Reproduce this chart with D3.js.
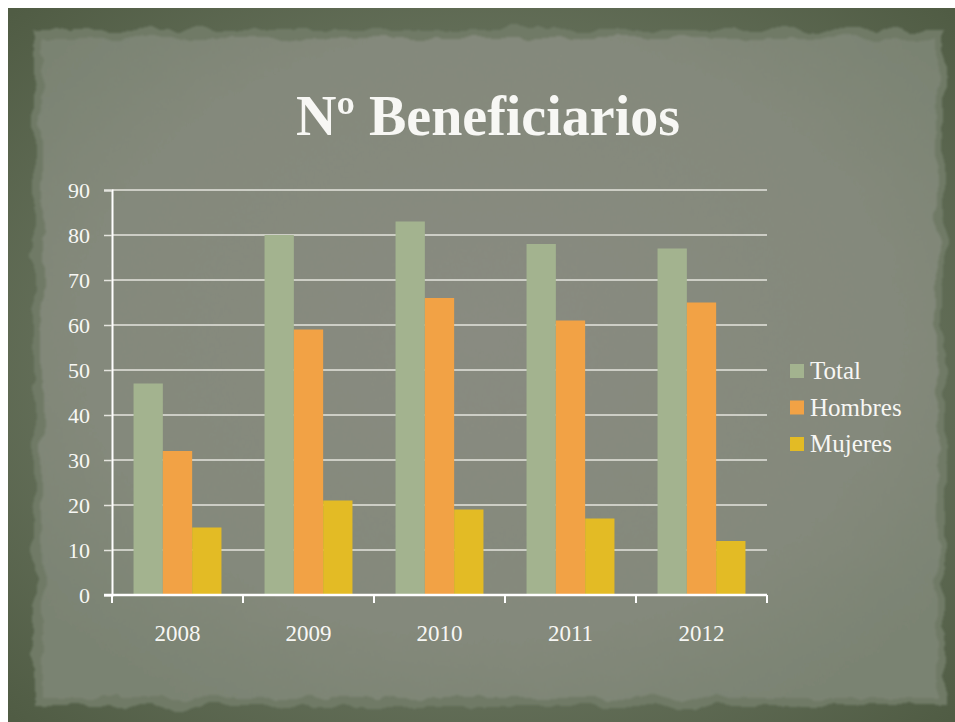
<!DOCTYPE html>
<html>
<head>
<meta charset="utf-8">
<script src="https://cdn.jsdelivr.net/npm/d3@7"></script>
<style>
  html, body { margin: 0; padding: 0; background: #fff; }
  svg { display: block; }
</style>
</head>
<body>
<svg id="chart" width="955" height="722"></svg>
<script>
// data
const years = ['2008', '2009', '2010', '2011', '2012'];
const seriesNames = ['Total', 'Hombres', 'Mujeres'];
const seriesColors = ['#a3b38f', '#f2a245', '#e3bb25'];
const total = [47, 80, 83, 78, 77];
const hombres = [32, 59, 66, 61, 65];
const mujeres = [15, 21, 19, 17, 12];
const yTicks = [0, 10, 20, 30, 40, 50, 60, 70, 80, 90];

const values = [total, hombres, mujeres];
const rows = years.map((y, i) => ({
  year: y,
  vals: seriesNames.map((s, j) => ({ key: s, value: values[j][i], color: seriesColors[j] }))
}));

const svg = d3.select('#chart');
const defs = svg.append('defs');

// background: dark frame + torn lighter panel
let rg = defs.append('radialGradient').attr('id', 'panelGrad')
    .attr('cx', '50%').attr('cy', '45%').attr('r', '65%');
rg.append('stop').attr('offset', '0%').attr('stop-color', '#898b81');
rg.append('stop').attr('offset', '70%').attr('stop-color', '#84897b');
rg.append('stop').attr('offset', '100%').attr('stop-color', '#7a8372');

let fg = defs.append('radialGradient').attr('id', 'frameGrad')
    .attr('cx', '50%').attr('cy', '50%').attr('r', '70%');
fg.append('stop').attr('offset', '60%').attr('stop-color', '#65705a');
fg.append('stop').attr('offset', '100%').attr('stop-color', '#505c44');

let torn = defs.append('filter').attr('id', 'torn')
    .attr('x', '-5%').attr('y', '-5%').attr('width', '110%').attr('height', '110%');
torn.append('feTurbulence').attr('type', 'fractalNoise')
    .attr('baseFrequency', '0.03').attr('numOctaves', 3).attr('seed', 4).attr('result', 'noise');
torn.append('feDisplacementMap').attr('in', 'SourceGraphic').attr('in2', 'noise')
    .attr('scale', 16).attr('xChannelSelector', 'R').attr('yChannelSelector', 'G').attr('result', 'disp');
torn.append('feGaussianBlur').attr('in', 'disp').attr('stdDeviation', 1);

svg.append('rect')
    .attr('x', 8).attr('y', 8).attr('width', 947).attr('height', 714)
    .attr('fill', 'url(#frameGrad)');

svg.append('rect')
    .attr('x', 34).attr('y', 30).attr('width', 910).attr('height', 676)
    .attr('fill', '#6f7a66')
    .attr('filter', 'url(#torn)');
svg.append('rect')
    .attr('x', 42).attr('y', 38).attr('width', 895).attr('height', 660)
    .attr('fill', 'url(#panelGrad)')
    .attr('filter', 'url(#torn)');

// title
svg.append('text')
    .attr('x', 488).attr('y', 135)
    .attr('text-anchor', 'middle')
    .attr('font-family', 'Liberation Serif, DejaVu Serif, serif')
    .attr('font-weight', 'bold')
    .attr('font-size', 56)
    .attr('fill', '#f7f7f4')
    .text('Nº Beneficiarios');

// chart area
const plotL = 112, plotR = 767, plotT = 190, plotB = 595;

const x0 = d3.scaleBand().domain(years).range([plotL, plotR]).paddingInner(0).paddingOuter(0);
const x1 = d3.scaleBand().domain(seriesNames).range([0, x0.bandwidth()]).paddingInner(0).paddingOuter(0.735);
const y = d3.scaleLinear().domain([0, 90]).range([plotB, plotT]);

const font = 'Liberation Serif, DejaVu Serif, serif';

// gridlines
svg.append('g')
  .selectAll('line')
  .data(yTicks.filter(d => d > 0))
  .enter().append('line')
    .attr('x1', plotL).attr('x2', plotR)
    .attr('y1', d => y(d)).attr('y2', d => y(d))
    .attr('stroke', '#e4e4de')
    .attr('stroke-width', 1.5);

// bars
const groups = svg.append('g')
  .selectAll('g')
  .data(rows)
  .enter().append('g')
    .attr('transform', d => `translate(${x0(d.year)},0)`);

groups.selectAll('rect')
  .data(d => d.vals)
  .enter().append('rect')
    .attr('x', d => x1(d.key))
    .attr('y', d => y(d.value))
    .attr('width', x1.bandwidth())
    .attr('height', d => y(0) - y(d.value))
    .attr('fill', d => d.color);

// y axis
const yAxis = svg.append('g')
    .attr('transform', `translate(${plotL},0)`)
    .call(d3.axisLeft(y).tickValues(yTicks).tickSize(8).tickPadding(14));
yAxis.select('.domain').attr('stroke', '#fff').attr('stroke-width', 2);
yAxis.selectAll('.tick line').attr('stroke', '#e4e4de').attr('stroke-width', 1.5);
yAxis.selectAll('.tick text')
    .attr('fill', '#f7f7f4')
    .attr('font-family', font)
    .attr('font-size', 22);

// x axis
const xAxis = svg.append('g')
    .attr('transform', `translate(0,${plotB})`)
    .call(d3.axisBottom(x0).tickSize(0).tickPadding(30));
xAxis.select('.domain').remove();
xAxis.append('line')
    .attr('x1', plotL - 8).attr('x2', plotR)
    .attr('stroke', '#fff').attr('stroke-width', 2.5);
xAxis.selectAll('.tick text')
    .attr('fill', '#f7f7f4')
    .attr('font-family', font)
    .attr('font-size', 23);

// category separators on the x axis
const seps = years.map(d => x0(d)).concat([plotR]);
xAxis.selectAll('.sep')
  .data(seps)
  .enter().append('line')
    .attr('class', 'sep')
    .attr('x1', d => d).attr('x2', d => d)
    .attr('y1', 0).attr('y2', 8)
    .attr('stroke', '#fff').attr('stroke-width', 2);

// legend
const legend = svg.append('g')
    .attr('transform', 'translate(790,364)');
const items = legend.selectAll('g')
  .data(seriesNames)
  .enter().append('g')
    .attr('transform', (d, i) => `translate(0,${i * 36.5})`);
items.append('rect')
    .attr('width', 14).attr('height', 14)
    .attr('fill', (d, i) => seriesColors[i]);
items.append('text')
    .attr('x', 20).attr('y', 15)
    .attr('fill', '#f7f7f4')
    .attr('font-family', font)
    .attr('font-size', 25)
    .text(d => d);
</script>
</body>
</html>
